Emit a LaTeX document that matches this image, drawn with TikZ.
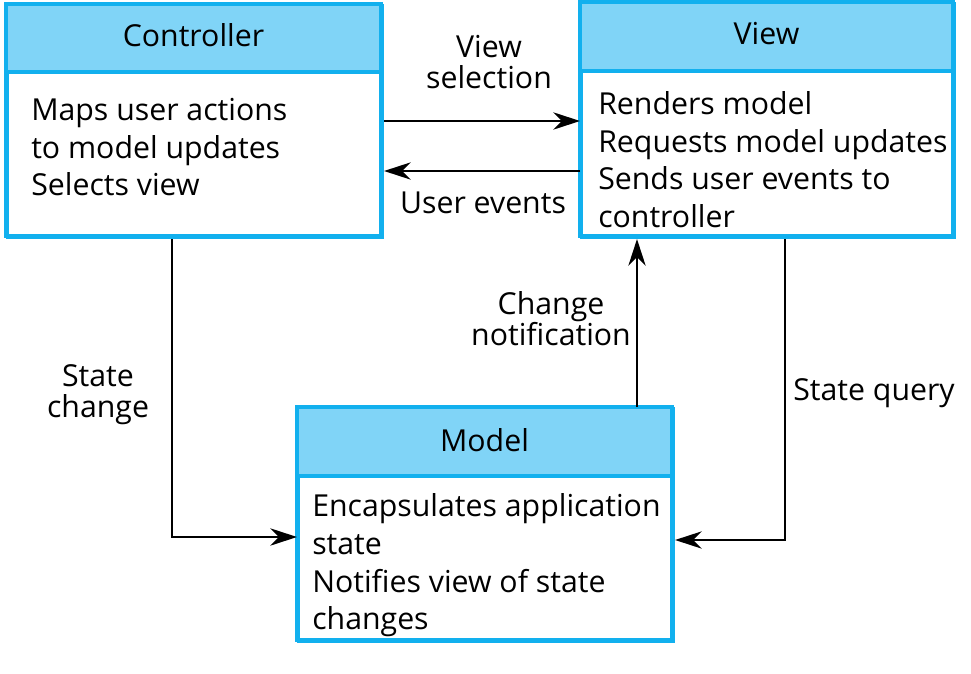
\documentclass[tikz,border=0pt]{standalone}
\usepackage{fontspec}
\setmainfont{Open Sans}
\usetikzlibrary{arrows.meta}
\definecolor{boxline}{HTML}{12B0EE}
\definecolor{headfill}{HTML}{80D4F7}
\tikzset{
  every node/.style={font=\fontsize{22.7}{28}\selectfont, inner sep=0pt},
  boxbody/.style={draw=boxline, line width=2.3pt, fill=white, anchor=north west, minimum width=#1},
  txt/.style={anchor=base west},
  lbl/.style={anchor=base, align=center},
  conn/.style={line width=1.3pt, -{Stealth[length=20pt,width=13pt,inset=6.5pt]}},
}
\begin{document}
\begin{tikzpicture}[x=0.75pt,y=-0.75pt]
\useasboundingbox (0,0) rectangle (971,674);
% Controller
\node[boxbody=375*0.75pt, minimum height=232*0.75pt] (ctrl) at (6,4) {};
\fill[headfill] (6,4) rectangle (381,72);
\draw[boxline, line width=2.3pt] (6,72) -- (381,72);
\draw[boxline, line width=2.3pt] (6,4) rectangle (381,236);
\node (ctrlh) at (193.5,35) {Controller};
\node[txt] (c1) at (31,120) {Maps user actions};
\node[txt] (c2) at (31,158) {to model updates};
\node[txt] (c3) at (31,195) {Selects view};
% View
\node[boxbody=373*0.75pt, minimum height=234*0.75pt] (view) at (580,2) {};
\fill[headfill] (580,2) rectangle (953,71);
\draw[boxline, line width=2.3pt] (580,71) -- (953,71);
\draw[boxline, line width=2.3pt] (580,2) rectangle (953,236);
\node (viewh) at (766.5,34) {View};
\node[txt] (v1) at (598,114) {Renders model};
\node[txt] (v2) at (598,152) {Requests model updates};
\node[txt] (v3) at (598,189) {Sends user events to};
\node[txt] (v4) at (598,227) {controller};
% Model
\node[boxbody=375*0.75pt, minimum height=233*0.75pt] (model) at (297,407) {};
\fill[headfill] (297,407) rectangle (672,476);
\draw[boxline, line width=2.3pt] (297,476) -- (672,476);
\draw[boxline, line width=2.3pt] (297,407) rectangle (672,640);
\node (modelh) at (484.5,440) {Model};
\node[txt] (m1) at (312,516) {Encapsulates application};
\node[txt] (m2) at (312,554) {state};
\node[txt] (m3) at (312,592) {Notifies view of state};
\node[txt] (m4) at (312,629) {changes};
% connectors
\coordinate (sc) at (172,537);
\coordinate (sq) at (785,540);
\draw[conn] (ctrl.east |- 0,121) -- (view.west |- 0,121);
\draw[conn] (view.west |- 0,171) -- (ctrl.east |- 0,171);
\draw[conn] (ctrl.south -| sc) -- (sc) -- (model.west |- sc);
\draw[conn] (model.north -| 637,0) -- (view.south -| 637,0);
\draw[conn] (view.south -| sq) -- (sq) -- (model.east |- sq);
% labels
\node[lbl] (l1) at (489,58) {View};
\node[lbl] (l2) at (489,89) {selection};
\node[lbl] (l3) at (483,213) {User events};
\node[lbl] (l4) at (98,386) {State};
\node[lbl] (l5) at (98,417) {change};
\node[lbl] (l6) at (551,314) {Change};
\node[lbl] (l7) at (551,345) {notification};
\node[lbl] (l8) at (874,400) {State query};
\end{tikzpicture}
\end{document}
